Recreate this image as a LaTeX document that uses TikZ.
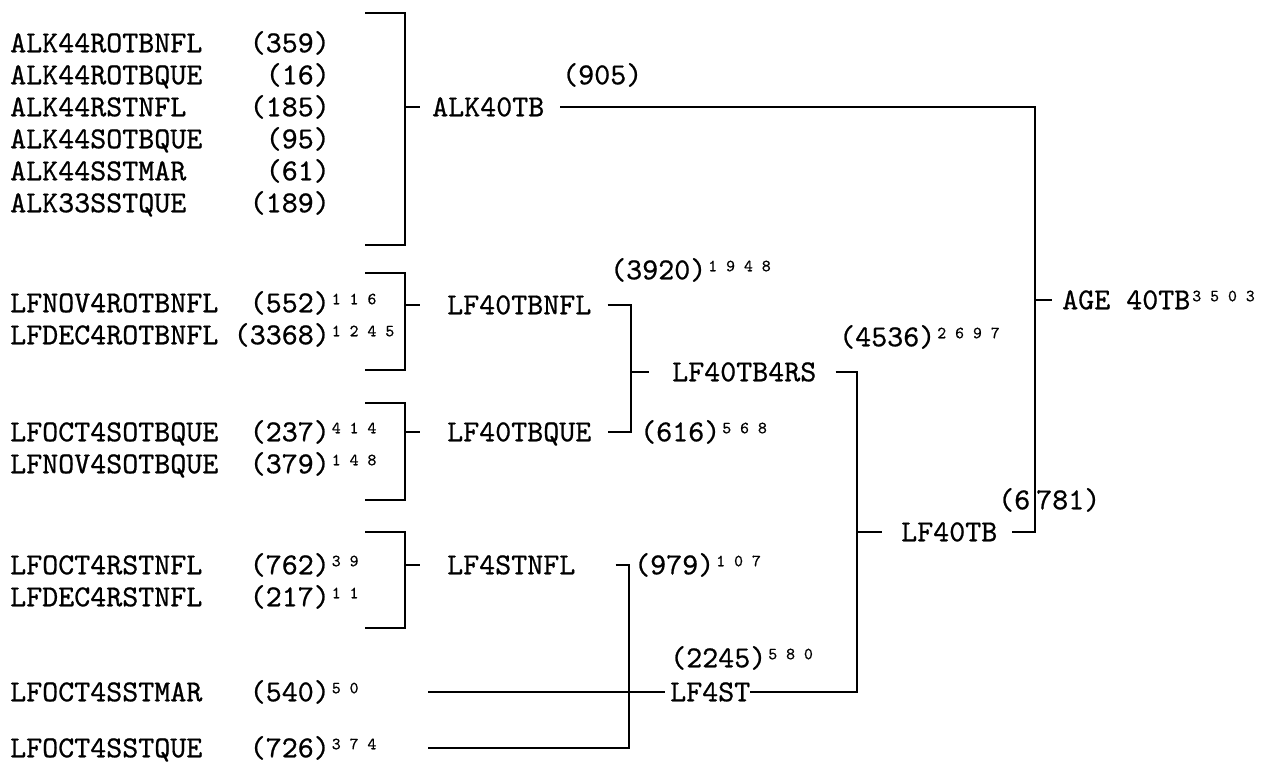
\documentclass[tikz,border=0pt]{standalone}
\usepackage{fontspec}
\usepackage{tikz}
\newfontfamily\twfont{lmmono10-regular.otf}[FakeBold=0.7]
\newcommand\supn[1]{\rlap{\hspace{2pt}\raisebox{8pt}{\fontsize{17}{17}\selectfont #1}}}

\begin{document}
\begin{tikzpicture}[x=1pt,y=-1pt,
  font=\twfont\fontsize{30.5}{36}\selectfont,
  lbl/.style={anchor=west,inner sep=0pt,text height=18.5pt,text depth=0pt},
  cnt/.style={lbl,anchor=east},
  wire/.style={line width=1.8pt}]
\useasboundingbox (0,0) rectangle (1269,766);
% ALK leaves
\foreach \nm/\c/\y [count=\i] in {ALK44ROTBNFL/(359)/43,ALK44ROTBQUE/(16)/75,ALK44RSTNFL/(185)/107,
  ALK44SOTBQUE/(95)/139,ALK44SSTMAR/(61)/171,ALK33SSTQUE/(189)/203}{
\node[lbl] (a\i) at (10,\y) {\nm};
\node[cnt] (ca\i) at (330,\y) {\c};}
% LF leaves
\foreach \nm/\c/\s/\y [count=\i] in {LFNOV4ROTBNFL/(552)/1 1 6/303,LFDEC4ROTBNFL/(3368)/1 2 4 5/335,
  LFOCT4SOTBQUE/(237)/4 1 4/432,LFNOV4SOTBQUE/(379)/1 4 8/464,LFOCT4RSTNFL/(762)/3 9/565,
  LFDEC4RSTNFL/(217)/1 1/597,LFOCT4SSTMAR/(540)/5 0/692,LFOCT4SSTQUE/(726)/3 7 4/748}{
\node[lbl] (l\i) at (10,\y) {\nm};
\node[cnt] (cl\i) at (330,\y) {\c\supn{\s}};}
% brackets
\foreach \t/\b in {13/245,273/370,403/500,532/628}
  \draw[wire] (365,\t) -- (405,\t) -- (405,\b) -- (365,\b);
% inner groups
\node[lbl] (alk) at (432,107) {ALK40TB};
\node[lbl] (c905) at (562,75) {(905)};
\node[lbl] (nfl) at (447,305) {LF40TBNFL};
\node[lbl] (que) at (447,432) {LF40TBQUE};
\node[lbl] (stnfl) at (447,565) {LF4STNFL};
\node[lbl] (c3920) at (610,270) {(3920)\supn{1 9 4 8}};
\node[lbl] (c616) at (640,432) {(616)\supn{5 6 8}};
\node[lbl] (c979) at (634,565) {(979)\supn{1 0 7}};
\node[lbl] (rs) at (672,372) {LF40TB4RS};
\node[lbl] (c4536) at (839,337) {(4536)\supn{2 6 9 7}};
\node[lbl] (st) at (670,692) {LF4ST};
\node[lbl] (c2245) at (670,658) {(2245)\supn{5 8 0}};
\node[lbl] (tb) at (901,532) {LF40TB};
\node[lbl] (c6781) at (998,500) {(6\kern6pt781)};
\node[lbl] (age) at (1062,300) {AGE 40TB\supn{3 5 0 3}};
% spines
\coordinate (bx) at (405,0);
\coordinate (lx) at (428,0);
\coordinate (sB) at (631,0);
\coordinate (sD) at (629,0);
\coordinate (sC) at (857,0);
\coordinate (sA) at (1035,0);
\foreach \n in {alk,nfl,que,stnfl} \draw[wire] (\n.west -| bx) -- ++(15,0);
\draw[wire] ([xshift=16pt]alk.east) -- (alk.east -| sA) |- ([xshift=15pt]tb.east);
\draw[wire] (age.west -| sA) -- ([xshift=-10pt]age.west);
\draw[wire] ([xshift=16pt]nfl.east) -- (nfl.east -| sB) -- (que.east -| sB) -- ([xshift=16pt]que.east);
\draw[wire] (rs.west -| sB) -- ([xshift=-23pt]rs.west);
\draw[wire] ([xshift=19pt]rs.east) -- (rs.east -| sC) -- (st.east -| sC) -- (st.east);
\draw[wire] (tb.west -| sC) -- ([xshift=-19pt]tb.west);
\draw[wire] ([xshift=40pt]stnfl.east) -- (stnfl.east -| sD) -- (l8 -| sD) -- (l8 -| lx);
\draw[wire] (l7 -| lx) -- ([xshift=-5pt]st.west);
\end{tikzpicture}
\end{document}
